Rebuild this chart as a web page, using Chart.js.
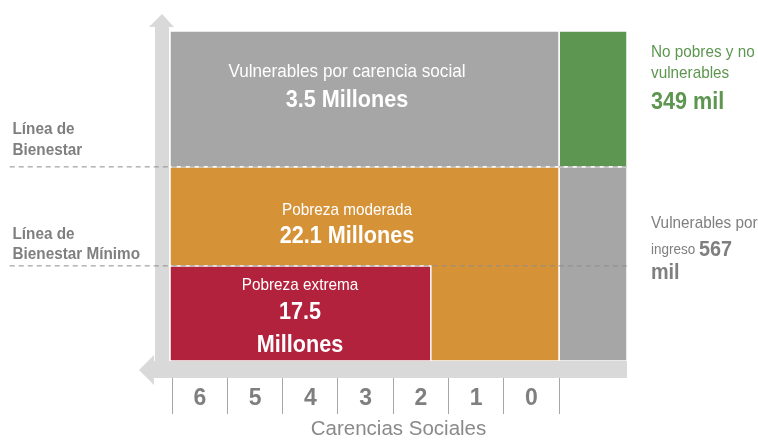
<!DOCTYPE html>
<html lang="es">
<head>
    <meta charset="UTF-8">
    <title>Pobreza multidimensional</title>
    <style>
        html, body { margin: 0; padding: 0; background: #fff; }
        #wrap { width: 758px; height: 440px; }
    </style>
</head>
<body>
    <div id="wrap"><canvas id="pobrezaChart"></canvas></div>

    <script src="https://cdn.jsdelivr.net/npm/chart.js"></script>
    <script>
        // x axis: number of social deprivations
        const carencias = [6, 5, 4, 3, 2, 1, 0];

        // population groups and their size
        const grupos = ['Pobreza extrema', 'Pobreza moderada', 'Vulnerables por carencia social', 'Vulnerables por ingreso', 'No pobres y no vulnerables'];
        const poblacion = ['17.5 Millones', '22.1 Millones', '3.5 Millones', '567 mil', '349 mil'];

        // extent of each block, in carencias (x) and income level (y)
        const carenciaDesde = [6.54, 6.54, 6.54, -0.5, -0.5];
        const carenciaHasta = [1.82, -0.5, -0.5, -1.73, -1.73];
        const ingresoDesde = [0, 0, 2, 0, 2];
        const ingresoHasta = [0.98, 2, 3.4, 2, 3.4];

        // income lines
        const lineas = ['Línea de Bienestar', 'Línea de Bienestar Mínimo'];
        const lineaValor = [2, 0.98];

        const coloresGrupo = ['#b3223c', '#d69237', '#a6a6a6', '#a6a6a6', '#5d9650'];
        const FONT = "'Liberation Sans', Arial, sans-serif";
        const GRIS = '#7f7f7f';
        const VERDE = '#5d9650';
        const SQUEEZE = 0.9; // original lettering is slightly condensed

        // one closed rectangle per group, filled with 'shape'
        const bloques = grupos.map((g, i) => {
            const x0 = carenciaDesde[i], x1 = carenciaHasta[i];
            const y0 = ingresoDesde[i], y1 = ingresoHasta[i];
            return {
                label: g,
                data: [{x: x0, y: y0}, {x: x1, y: y0}, {x: x1, y: y1}, {x: x0, y: y1}, {x: x0, y: y0}],
                fill: 'shape',
                backgroundColor: coloresGrupo[i],
                borderColor: '#ffffff',
                borderWidth: 1.5,
                pointRadius: 0,
                order: i === 0 ? 1 : 2
            };
        });

        const cortes = lineas.map((l, i) => ({
            label: l,
            data: [{x: 9.44, y: lineaValor[i]}, {x: -1.73, y: lineaValor[i]}],
            borderColor: '#8c8c8c',
            borderWidth: 1,
            borderDash: [5, 4],
            pointRadius: 0,
            fill: false,
            clip: false,
            order: 0
        }));

        // text placed in data coordinates: [text, size, bold]
        const textos = [
            {x: 3.337, align: 'center', color: '#ffffff', rows: [
                {y: 2.978, parts: [[grupos[2], 19, false]]},
                {y: 2.689, parts: [[poblacion[2], 24, true]]}
            ]},
            {x: 3.337, align: 'center', color: '#ffffff', rows: [
                {y: 1.551, parts: [[grupos[1], 17, false]]},
                {y: 1.281, parts: [[poblacion[1], 24, true]]}
            ]},
            {x: 4.187, align: 'center', color: '#ffffff', rows: [
                {y: 0.78, parts: [[grupos[0], 17, false]]},
                {y: 0.502, parts: [['17.5', 24, true]]},
                {y: 0.165, parts: [['Millones', 24, true]]}
            ]},
            {x: -2.164, align: 'left', color: VERDE, rows: [
                {y: 3.184, parts: [['No pobres y no', 17, false]]},
                {y: 2.962, parts: [['vulnerables', 17, false]]},
                {y: 2.668, parts: [[poblacion[4], 24, true]]}
            ]},
            {x: -2.164, align: 'left', color: GRIS, rows: [
                {y: 1.417, parts: [['Vulnerables por', 17, false]]},
                {y: 1.144, parts: [['ingreso ', 15, false], ['567', 22, true]]},
                {y: 0.912, parts: [['mil', 22, true]]}
            ]},
            {x: 9.39, align: 'left', color: GRIS, rows: [
                {y: 2.39, parts: [['Línea de', 17, true]]},
                {y: 2.174, parts: [['Bienestar', 17, true]]}
            ]},
            {x: 9.39, align: 'left', color: GRIS, rows: [
                {y: 1.308, parts: [['Línea de', 17, true]]},
                {y: 1.102, parts: [['Bienestar Mínimo', 17, true]]}
            ]}
        ];

        const axisArrows = {
            id: 'axisArrows',
            beforeDatasetsDraw(chart) {
                const {ctx, chartArea: a} = chart;
                ctx.save();
                ctx.fillStyle = '#d9d9d9';
                // vertical arrow (income)
                ctx.fillRect(a.left - 15, a.top - 4, 14, a.bottom - a.top + 4);
                ctx.beginPath();
                ctx.moveTo(a.left - 21, a.top - 4);
                ctx.lineTo(a.left - 8, a.top - 17);
                ctx.lineTo(a.left + 4, a.top - 4);
                ctx.fill();
                // horizontal arrow (carencias)
                ctx.fillRect(a.left - 16, a.bottom, a.right - a.left + 16, 17);
                ctx.beginPath();
                ctx.moveTo(a.left - 16, a.bottom - 6);
                ctx.lineTo(a.left - 31, a.bottom + 9);
                ctx.lineTo(a.left - 16, a.bottom + 24);
                ctx.fill();
                ctx.restore();
            }
        };

        const blockLabels = {
            id: 'blockLabels',
            afterDatasetsDraw(chart) {
                const ctx = chart.ctx;
                const xs = chart.scales.x, ys = chart.scales.y;
                ctx.save();
                ctx.textBaseline = 'middle';
                ctx.textAlign = 'left';
                textos.forEach(t => {
                    const px = xs.getPixelForValue(t.x);
                    ctx.fillStyle = t.color;
                    t.rows.forEach(r => {
                        const py = ys.getPixelForValue(r.y);
                        const widths = r.parts.map(p => {
                            ctx.font = (p[2] ? 'bold ' : '') + p[1] + 'px ' + FONT;
                            return ctx.measureText(p[0]).width * SQUEEZE;
                        });
                        const total = widths.reduce((s, w) => s + w, 0);
                        let cx = t.align === 'center' ? px - total / 2 : px;
                        r.parts.forEach((p, k) => {
                            ctx.font = (p[2] ? 'bold ' : '') + p[1] + 'px ' + FONT;
                            ctx.save();
                            ctx.translate(cx, py);
                            ctx.scale(SQUEEZE, 1);
                            ctx.fillText(p[0], 0, 0);
                            ctx.restore();
                            cx += widths[k];
                        });
                    });
                });
                ctx.restore();
            }
        };

        const ctx = document.getElementById('pobrezaChart').getContext('2d');
        const chart = new Chart(ctx, {
            type: 'line',
            data: {
                datasets: [...cortes, ...bloques]
            },
            options: {
                responsive: true,
                maintainAspectRatio: false,
                animation: false,
                events: [],
                layout: {
                    padding: {left: 170, right: 131, top: 31, bottom: 0}
                },
                scales: {
                    x: {
                        type: 'linear',
                        reverse: true,
                        min: -1.73,
                        max: 6.54,
                        afterBuildTicks: scale => {
                            scale.ticks = carencias.slice().reverse().map(v => ({value: v}));
                        },
                        afterFit: scale => {
                            scale.height = 79;
                        },
                        border: {display: false},
                        grid: {
                            offset: true,
                            drawOnChartArea: false,
                            drawTicks: true,
                            tickLength: 53,
                            color: '#a6a6a6',
                            lineWidth: 1
                        },
                        ticks: {
                            padding: -29,
                            autoSkip: false,
                            maxRotation: 0,
                            color: GRIS,
                            font: {family: FONT, size: 23, weight: 'bold'}
                        },
                        title: {
                            display: true,
                            text: 'Carencias Sociales',
                            color: '#8a8a8a',
                            font: {family: FONT, size: 20.5, lineHeight: 1},
                            padding: {top: 0, bottom: 0}
                        }
                    },
                    y: {
                        type: 'linear',
                        display: false,
                        min: 0,
                        max: 3.4
                    }
                },
                plugins: {
                    legend: {display: false},
                    tooltip: {enabled: false}
                }
            },
            plugins: [axisArrows, blockLabels]
        });
    </script>
</body>
</html>
